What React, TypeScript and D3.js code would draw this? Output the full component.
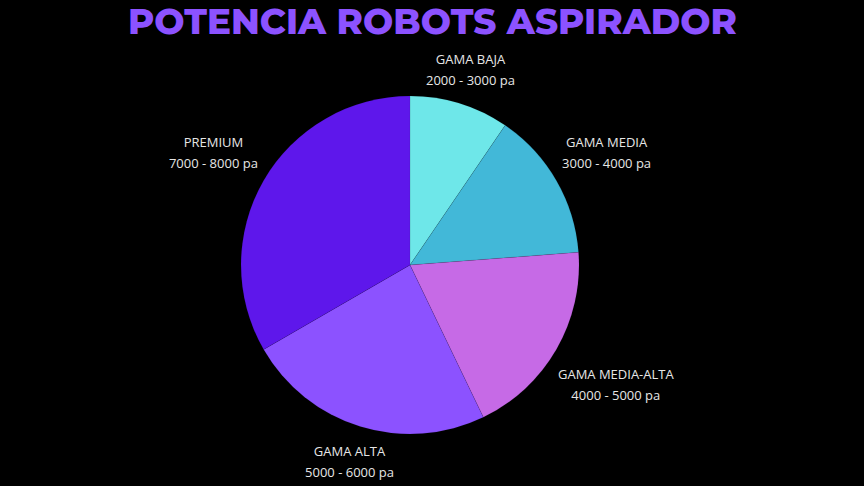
import * as d3 from "d3";

const categories = ["GAMA BAJA", "GAMA MEDIA", "GAMA MEDIA-ALTA", "GAMA ALTA", "PREMIUM"];
const ranges = ["2000 - 3000 pa", "3000 - 4000 pa", "4000 - 5000 pa", "5000 - 6000 pa", "7000 - 8000 pa"];
const values = [2, 3, 4, 5, 7];
const colors = ["#6ee7e9", "#42b8d8", "#c66ae6", "#8c52ff", "#5e17eb"];

const width = 864;
const height = 486;
const cx = 410;
const cy = 265;
const radius = 169;

export default function App() {
  const pie = d3.pie<number>().sort(null).value((d) => d);
  const arcs = pie(values);
  const arc = d3.arc<d3.PieArcDatum<number>>().innerRadius(0).outerRadius(radius);

  return (
    <svg
      width={width}
      height={height}
      style={{ position: "absolute", left: 0, top: 0, background: "#000" }}
    >
      <rect width={width} height={height} fill="#000" />
      <text
        x={432.5}
        y={34}
        textAnchor="middle"
        fill="#8c52ff"
        fontFamily="Montserrat, 'Open Sans', sans-serif"
        fontWeight={800}
        fontSize={36}
        textLength={609}
        lengthAdjust="spacingAndGlyphs"
      >
        POTENCIA ROBOTS ASPIRADOR
      </text>
      <g transform={`translate(${cx},${cy})`}>
        {arcs.map((a, i) => (
          <path key={i} d={arc(a) as string} fill={colors[i]} stroke="#000" strokeOpacity={0.15} strokeWidth={0.5} />
        ))}
        {arcs.map((a, i) => {
          const mid = (a.startAngle + a.endAngle) / 2;
          const s = Math.sin(mid);
          const c = -Math.cos(mid);
          // push the label box outward so its near edge sits just outside the pie
          const halfW = (Math.max(categories[i].length * 7.8, ranges[i].length * 6.6)) / 2;
          const halfH = 10;
          const r = 182 + Math.abs(s) * halfW + Math.abs(c) * halfH;
          const x = s * r;
          const y = c * r;
          return (
            <text
              key={i}
              textAnchor="middle"
              fill="#e6e6e6"
              fontFamily="'Open Sans', sans-serif"
              fontSize={13}
            >
              <tspan x={x} y={y - 5}>{categories[i]}</tspan>
              <tspan x={x} y={y + 16}>{ranges[i]}</tspan>
            </text>
          );
        })}
      </g>
    </svg>
  );
}
